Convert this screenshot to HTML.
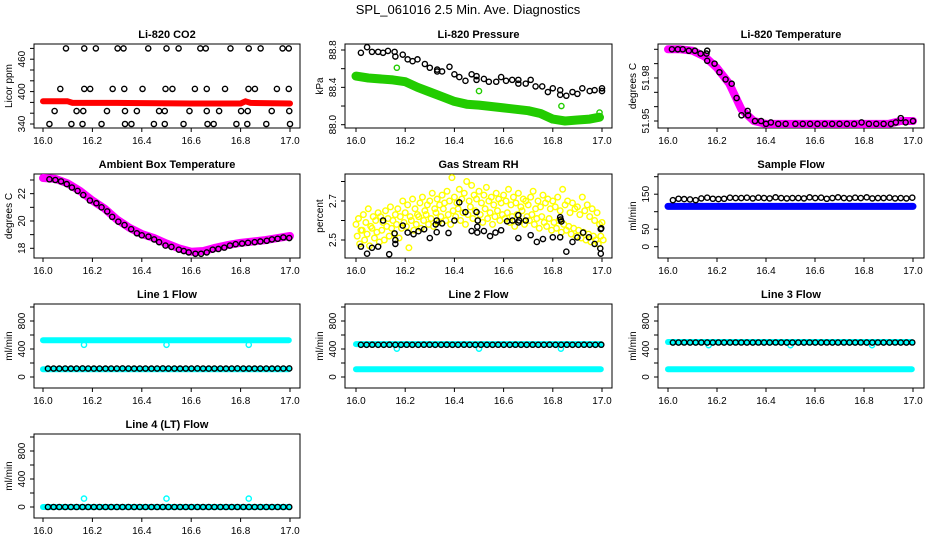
<!DOCTYPE html>
<html><head><meta charset="utf-8"><style>
html,body{margin:0;padding:0;background:#fff;}
svg{display:block;font-family:"Liberation Sans",sans-serif;}
</style></head><body>
<svg id="chart" width="936" height="540" viewBox="0 0 936 540">
<text x="468" y="14" text-anchor="middle" font-size="13">SPL_061016  2.5 Min. Ave. Diagnostics</text>
</svg>
<script>
// ---------- data ----------
const xTicks=[16.0,16.2,16.4,16.6,16.8,17.0];
const xTickLabels=["16.0","16.2","16.4","16.6","16.8","17.0"];
const sampleTimes=[16.020,16.043,16.066,16.090,16.113,16.136,16.160,16.183,16.206,16.229,16.253,16.276,16.299,16.322,16.346,16.369,16.392,16.415,16.439,16.462,16.485,16.508,16.532,16.555,16.578,16.601,16.625,16.648,16.671,16.694,16.718,16.741,16.764,16.787,16.811,16.834,16.857,16.880,16.904,16.927,16.950,16.973,16.997];

const co2X=[16.093,16.167,16.214,16.302,16.326,16.426,16.5,16.549,16.637,16.659,16.759,16.833,16.881,16.970,16.995,
16.070,16.167,16.191,16.282,16.329,16.403,16.496,16.524,16.615,16.663,16.737,16.832,16.858,16.947,16.995,
16.047,16.136,16.163,16.259,16.332,16.380,16.470,16.493,16.593,16.663,16.713,16.802,16.829,16.926,16.997,
16.026,16.115,16.160,16.237,16.332,16.358,16.449,16.493,16.569,16.666,16.691,16.783,16.827,16.904,17.0];
const co2Y=[480,480,480,480,480,480,480,480,480,480,480,480,480,480,480,
405,405,405,405,405,405,405,405,405,405,405,405,405,405,405,
364,364,364,364,364,364,364,364,364,364,364,364,364,364,364,
340,340,340,340,340,340,340,340,340,340,340,340,340,340,340];
const co2BandX=[16.0,16.1,16.12,16.3,16.6,16.8,16.82,16.84,17.0];
const co2BandY=[382,382,379,379,378,378,382,379,378];

const presX=[16.02,16.045,16.065,16.09,16.11,16.13,16.157,16.16,16.19,16.21,16.23,16.25,16.28,16.30,16.33,16.33,16.35,16.38,16.40,16.42,16.445,16.47,16.49,16.49,16.52,16.54,16.57,16.59,16.61,16.635,16.66,16.66,16.69,16.71,16.73,16.757,16.78,16.80,16.83,16.83,16.855,16.88,16.90,16.92,16.95,16.97,17.0,17.0];
const presY=[88.77,88.83,88.78,88.78,88.77,88.79,88.78,88.73,88.75,88.70,88.68,88.70,88.65,88.61,88.59,88.57,88.57,88.62,88.54,88.51,88.47,88.54,88.48,88.52,88.49,88.46,88.46,88.51,88.47,88.48,88.48,88.44,88.44,88.48,88.41,88.41,88.35,88.39,88.37,88.32,88.31,88.35,88.33,88.39,88.36,88.37,88.39,88.36];
const presBandX=[16.0,16.05,16.15,16.2,16.25,16.3,16.35,16.4,16.45,16.5,16.6,16.7,16.75,16.8,16.85,16.9,16.95,16.99];
const presBandY=[88.52,88.50,88.48,88.46,88.40,88.35,88.30,88.25,88.22,88.21,88.18,88.15,88.12,88.06,88.04,88.05,88.06,88.08];
const presOutX=[16.166,16.5,16.835,16.99];
const presOutY=[88.61,88.36,88.20,88.13];

const tempX=[16.016,16.04,16.06,16.085,16.11,16.133,16.157,16.16,16.16,16.19,16.21,16.235,16.26,16.28,16.30,16.325,16.327,16.355,16.38,16.40,16.42,16.45,16.48,16.52,16.55,16.58,16.61,16.64,16.67,16.70,16.73,16.76,16.79,16.82,16.85,16.88,16.91,16.93,16.95,16.97,17.0];
const tempY=[52.000,52.000,52.000,51.999,51.999,51.997,51.997,51.999,51.992,51.990,51.984,51.979,51.976,51.966,51.954,51.957,51.954,51.950,51.950,51.948,51.949,51.948,51.948,51.948,51.948,51.948,51.948,51.948,51.948,51.948,51.948,51.948,51.949,51.948,51.948,51.948,51.948,51.949,51.952,51.949,51.950];
const tempBandX=[16.0,16.05,16.1,16.15,16.2,16.25,16.3,16.35,16.4,16.5,16.7,16.9,16.95,17.0];
const tempBandY=[52.000,52.000,51.999,51.995,51.987,51.976,51.958,51.950,51.948,51.948,51.948,51.948,51.950,51.950];

const ambX=[16.026,16.05,16.073,16.096,16.117,16.14,16.163,16.19,16.216,16.237,16.26,16.28,16.305,16.33,16.357,16.38,16.40,16.427,16.45,16.47,16.496,16.52,16.55,16.57,16.59,16.617,16.64,16.663,16.687,16.71,16.734,16.757,16.78,16.806,16.83,16.857,16.88,16.906,16.927,16.95,16.973,16.997];
const ambY=[23.05,23.0,22.9,22.7,22.45,22.2,21.9,21.5,21.3,21.0,20.7,20.3,19.95,19.7,19.4,19.1,18.95,18.85,18.65,18.45,18.2,18.1,17.9,17.8,17.7,17.6,17.6,17.7,17.9,17.95,18.05,18.2,18.3,18.35,18.4,18.45,18.5,18.55,18.65,18.7,18.8,18.75];
const ambBandX=[16.0,16.05,16.1,16.15,16.2,16.25,16.3,16.35,16.4,16.45,16.5,16.55,16.6,16.65,16.7,16.75,16.8,16.85,16.9,16.95,17.0];
const ambBandY=[23.15,23.08,22.75,22.2,21.5,20.9,20.1,19.5,19.05,18.75,18.35,18.0,17.75,17.8,18.05,18.25,18.4,18.5,18.6,18.75,18.9];

const rhYellowA=[2.58,2.61,2.55,2.63,2.59,2.66,2.57,2.62,2.60,2.64,
2.62,2.59,2.65,2.61,2.67,2.60,2.63,2.66,2.62,2.70,
2.64,2.68,2.62,2.71,2.66,2.63,2.69,2.72,2.65,2.68,
2.70,2.74,2.66,2.71,2.68,2.73,2.69,2.75,2.70,2.82,
2.72,2.69,2.76,2.71,2.74,2.80,2.70,2.78,2.73,2.71,
2.75,2.69,2.73,2.77,2.70,2.72,2.68,2.74,2.71,2.69,
2.73,2.70,2.76,2.68,2.72,2.69,2.74,2.67,2.71,2.70,
2.68,2.72,2.75,2.66,2.70,2.67,2.73,2.69,2.71,2.66,
2.70,2.67,2.72,2.65,2.76,2.68,2.70,2.64,2.69,2.66,
2.67,2.63,2.72,2.65,2.68,2.62,2.66,2.60,2.64,2.58,2.59];
const rhYellowB=[2.52,2.48,2.55,2.50,2.53,2.47,2.56,2.51,2.54,2.49,
2.55,2.50,2.57,2.52,2.56,2.53,2.58,2.51,2.56,2.59,
2.57,2.46,2.60,2.55,2.58,2.62,2.56,2.60,2.63,2.58,
2.61,2.57,2.64,2.59,2.62,2.66,2.60,2.63,2.58,2.65,
2.62,2.66,2.60,2.64,2.58,2.63,2.67,2.61,2.65,2.60,
2.63,2.59,2.66,2.61,2.64,2.58,2.62,2.65,2.60,2.63,
2.61,2.64,2.59,2.62,2.57,2.63,2.60,2.65,2.58,2.62,
2.60,2.63,2.58,2.61,2.56,2.62,2.59,2.57,2.61,2.55,
2.59,2.56,2.60,2.54,2.58,2.55,2.57,2.53,2.56,2.52,
2.55,2.51,2.54,2.50,2.53,2.49,2.52,2.50,2.48,2.52,2.50];
const rhBlackX=[16.02,16.045,16.065,16.09,16.11,16.135,16.157,16.16,16.16,16.19,16.21,16.234,16.254,16.277,16.30,16.324,16.328,16.328,16.35,16.376,16.40,16.42,16.445,16.47,16.49,16.493,16.493,16.495,16.52,16.545,16.567,16.59,16.614,16.636,16.66,16.66,16.66,16.663,16.69,16.71,16.735,16.76,16.80,16.83,16.83,16.832,16.835,16.855,16.88,16.90,16.923,16.947,16.97,16.993,16.995,16.995,16.997];
const rhBlackY=[2.466,2.43,2.46,2.466,2.60,2.427,2.534,2.50,2.48,2.574,2.538,2.53,2.545,2.555,2.51,2.58,2.60,2.54,2.585,2.536,2.60,2.693,2.643,2.546,2.643,2.568,2.538,2.60,2.546,2.52,2.538,2.55,2.596,2.60,2.59,2.51,2.627,2.60,2.60,2.525,2.49,2.505,2.514,2.514,2.617,2.605,2.595,2.44,2.49,2.513,2.538,2.514,2.48,2.457,2.43,2.556,2.56];

const sampleFlowBlack=[133,137,136,135,133,138,140,137,136,137,140,139,139,140,138,140,139,138,141,139,138,139,139,138,141,139,140,137,139,141,139,138,140,139,141,138,139,139,140,138,139,138,140];
const sampleFlowBand=[115,115];
const line1Black=[120,121,120,121,120,121,122,121,120,121,120,121,121,122,121,120,121,121,120,121,122,121,121,120,121,121,122,121,120,121,121,120,121,122,121,121,120,121,121,120,121,121,122];
const line1Cyan=[525,110];
const line1CyanOutX=[16.166,16.5,16.833];
const line1CyanOutY=[460,460,460];
const line2Black=[460,460,461,460,460,461,460,460,461,460,460,461,461,460,460,461,460,460,461,460,460,461,460,460,461,460,460,461,460,460,461,460,460,461,460,460,461,460,460,461,460,460,461];
const line2Cyan=[470,110];
const line2CyanOutX=[16.166,16.5,16.833];
const line2CyanOutY=[405,405,405];
const line3Black=[492,492,493,492,492,493,492,492,493,492,492,493,493,492,492,493,492,492,493,492,492,493,492,492,493,492,492,493,492,492,493,492,492,493,492,492,493,492,492,493,492,492,493];
const line3Cyan=[500,110];
const line3CyanOutX=[16.166,16.5,16.833];
const line3CyanOutY=[455,455,455];
const line4Black=[0,0,0,0,0,0,0,0,0,0,0,0,0,0,0,0,0,0,0,0,0,0,0,0,0,0,0,0,0,0,0,0,0,0,0,0,0,0,0,0,0,0,0];
const line4Cyan=[0];
const line4CyanOutX=[16.166,16.5,16.833];
const line4CyanOutY=[120,120,120];
const flowTicks=[0,200,400,600,800,1000];
const flowTickLabels=["0","","400","","800",""];

// ---------- drawing ----------
const NS="http://www.w3.org/2000/svg";
const svg=document.getElementById('chart');
const colL=[34,345,658], colR=[300,612,924], colX0=[43,356,668], colX1=[290,602,913];
const rowT=[44,174,304,434];
function mk(tag,attrs,parent){const e=document.createElementNS(NS,tag);for(const k in attrs)e.setAttribute(k,attrs[k]);(parent||svg).appendChild(e);return e;}

function panel(name,col,row,title,ylab,v1,p1,v2,p2,yt,ytl){
  const g=mk('g',{});
  
  
  const T=rowT[row],B=T+84,L=colL[col],R=colR[col];
  const sx=v=>colX0[col]+(v-16)*(colX1[col]-colX0[col]);
  const sy=v=>p1+(v-v1)*(p2-p1)/(v2-v1);
  const box=mk('rect',{x:L,y:T,width:R-L,height:B-T,fill:'none',stroke:'#000','stroke-width':1},g);
  
  
  const t=mk('text',{x:(L+R)/2,y:T-6,'text-anchor':'middle','font-size':11,'font-weight':'bold'},g);
  t.textContent=title;
  
  
  // x axis
  mk('line',{x1:sx(16),x2:sx(17),y1:B,y2:B,stroke:'#000'},g);
  xTicks.forEach((v,i)=>{
    mk('line',{x1:sx(v),x2:sx(v),y1:B,y2:B+4,stroke:'#000'},g);
    const l=mk('text',{x:sx(v),y:B+16,'text-anchor':'middle','font-size':10},g);
    l.textContent=xTickLabels[i];
    
    
  });
  // y axis
  mk('line',{x1:L,x2:L,y1:sy(yt[0]),y2:sy(yt[yt.length-1]),stroke:'#000'},g);
  yt.forEach((v,i)=>{
    const y=sy(v);
    mk('line',{x1:L-4,x2:L,y1:y,y2:y,stroke:'#000'},g);
    if(ytl[i]){
      const lx=L-9;
      const l=mk('text',{x:lx,y:y,'text-anchor':'middle','font-size':10,transform:`rotate(-90 ${lx} ${y})`},g);
      l.textContent=ytl[i];
      
      
    }
  });
  const ax=L-22, ay=(T+B)/2;
  const yl=mk('text',{x:ax,y:ay,'text-anchor':'middle','font-size':10,transform:`rotate(-90 ${ax} ${ay})`},g);
  yl.textContent=ylab;
  
  
  const clip='clip'+col+row;
  const cp=mk('clipPath',{id:clip},g);mk('rect',{x:L,y:T,width:R-L,height:B-T},cp);
  const d=mk('g',{'clip-path':`url(#${clip})`},g);
  return {sx,sy,d};
}
function band(P,xs,ys,color,w,name){
  const pts=xs.map((x,i)=>P.sx(x).toFixed(1)+','+P.sy(ys[i]).toFixed(1)).join(' ');
  const pl=mk('polyline',{points:pts,fill:'none',stroke:color,'stroke-width':w,'stroke-linejoin':'round','stroke-linecap':'round'},P.d);
  
  
}
function pts(P,xs,ys,color,name,r){
  xs.forEach((x,i)=>{
    const c=mk('circle',{cx:P.sx(x),cy:P.sy(ys[i]),r:r||2.6,fill:'none',stroke:color,'stroke-width':1.4},P.d);
    
    
  });
}

// CO2
let P=panel('co2-panel',0,0,'Li-820 CO2','Licor ppm',340,124,480,48.4,[340,360,380,400,420,440,460,480],["340","","","400","","","460",""]);
band(P,co2BandX,co2BandY,'#ff0000',6,'co2-band');
pts(P,co2X,co2Y,'#000','co2-point');
// Pressure
P=panel('pressure-panel',1,0,'Li-820 Pressure','kPa',88.0,124.7,88.8,50,[88.0,88.2,88.4,88.6,88.8],["88.0","","88.4","","88.8"]);
band(P,presBandX,presBandY,'#22cc00',9,'pressure-band');
pts(P,presOutX,presOutY,'#22cc00','pressure-outlier');
pts(P,presX,presY,'#000','pressure-point');
// Temperature
P=panel('li820-temperature-panel',2,0,'Li-820 Temperature','degrees C',51.95,121,52.0,49.3,[51.95,51.96,51.97,51.98,51.99,52.0],["51.95","","","51.98","",""]);
band(P,tempBandX,tempBandY,'#ff00ff',8,'temperature-band');
pts(P,tempX,tempY,'#000','temperature-point');
// Ambient
P=panel('ambient-temperature-panel',0,1,'Ambient Box Temperature','degrees C',18,248.3,23,180,[18,19,20,21,22,23],["18","","20","","22",""]);
band(P,ambBandX,ambBandY,'#ff00ff',8,'ambient-band');
pts(P,ambX,ambY,'#000','ambient-point');
// RH
P=panel('rh-panel',1,1,'Gas Stream RH','percent',2.5,240,2.7,201,[2.5,2.6,2.7,2.8],["2.5","","2.7",""]);
const rhX=rhYellowA.map((_,i)=>16+i/100);
pts(P,rhX,rhYellowA,'#ffff00','rh-yellow-point',2.8);
pts(P,rhX.map(x=>x+0.005),rhYellowB,'#ffff00','rh-yellow-point',2.8);
pts(P,rhBlackX,rhBlackY,'#000','rh-point');
// Sample flow
P=panel('sample-flow-panel',2,1,'Sample Flow','ml/min',0,246.7,200,176.7,[0,50,100,150,200],["0","50","","150",""]);
band(P,[16.0,17.0],sampleFlowBand,'#0000ff',7,'sample-flow-band');
pts(P,sampleTimes,sampleFlowBlack,'#000','sample-flow-point');
// Line flows
function flowPanel(name,col,row,title,cyan,outX,outY,black){
  const T=rowT[row];
  const P=panel(name,col,row,title,'ml/min',0,T+73,1000,T+3,flowTicks,flowTickLabels);
  cyan.forEach(v=>band(P,[16.0,16.995],[v,v],'#00ffff',6,'cyan-band'));
  pts(P,outX,outY,'#00ffff','cyan-outlier');
  pts(P,sampleTimes,black,'#000','flow-point');
}
flowPanel('line1-flow-panel',0,2,'Line 1 Flow',line1Cyan,line1CyanOutX,line1CyanOutY,line1Black);
flowPanel('line2-flow-panel',1,2,'Line 2 Flow',line2Cyan,line2CyanOutX,line2CyanOutY,line2Black);
flowPanel('line3-flow-panel',2,2,'Line 3 Flow',line3Cyan,line3CyanOutX,line3CyanOutY,line3Black);
flowPanel('line4-flow-panel',0,3,'Line 4 (LT) Flow',line4Cyan,line4CyanOutX,line4CyanOutY,line4Black);
</script>
</body></html>
